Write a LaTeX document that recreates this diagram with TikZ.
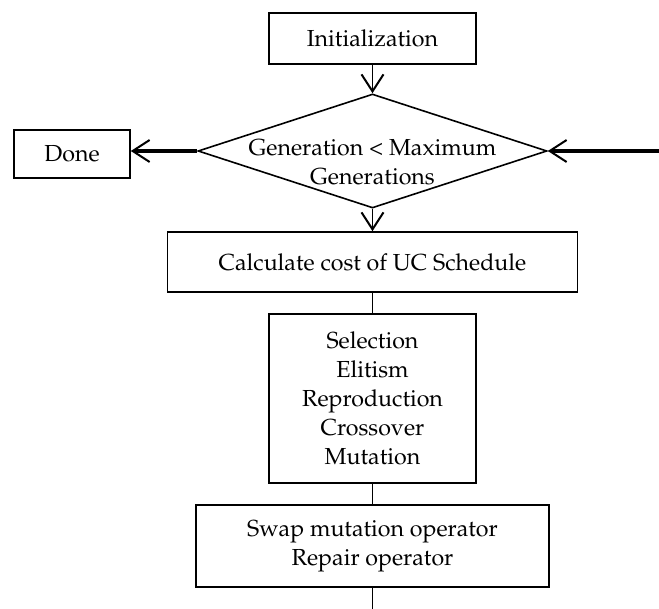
\documentclass[tikz,border=0pt]{standalone}
\usepackage[T1]{fontenc}
\usepackage{mathpazo}
\usetikzlibrary{arrows.meta,shapes.geometric}
\begin{document}
\begin{tikzpicture}[x=0.5pt,y=-0.5pt,
  every node/.style={font=\fontsize{11.6}{14.5}\selectfont},
  box/.style={draw, line width=0.8pt, inner sep=0pt, align=center},
  decision/.style={draw, diamond, line width=0.8pt, inner sep=0pt,
    minimum width=174.5pt, minimum height=57pt, aspect=3.06},
  caption/.style={inner sep=0pt, align=center},
  flow/.style={line width=0.9pt, -{Straight Barb[length=8.5pt,width=11pt,line width=1pt]}},
  link/.style={line width=0.9pt},
  exitflow/.style={line width=1.7pt, -{Straight Barb[length=8.5pt,width=11pt,line width=1pt]}},
]
\useasboundingbox (0,0) rectangle (659,609);

% flowchart blocks
\node[box, minimum width=103.5pt, minimum height=25.5pt] (init) at (372.5,38.5) {Initialization};
\node[decision] (dec) at (372.5,151) {};
\node[caption] (dectext) at (372.5,162) {Generation < Maximum\\Generations};
\node[box, minimum width=58pt, minimum height=24pt] (done) at (72,154) {Done};
\node[box, minimum width=205pt, minimum height=30pt] (calc) at (372.5,262) {Calculate cost of UC Schedule};
\node[box, minimum width=103.5pt, minimum height=84.5pt] (sel) at (372.5,398.5)
  {Selection\\Elitism\\Reproduction\\Crossover\\Mutation};
\node[box, minimum width=176.5pt, minimum height=41pt] (swap) at (372.5,546)
  {Swap mutation operator\\Repair operator};

% loose ends of the loop
\coordinate (back) at (659,151);
\coordinate (next) at (372.5,609);

% connectors
\draw[flow] (init.south) -- (dec.north);
\draw[flow] (dec.south) -- (calc.north);
\draw[exitflow] (dec.west) -- (dec.west -| done.east);
\draw[exitflow] (back) -- (dec.east);
\draw[link] (calc.south) -- (sel.north);
\draw[link] (sel.south) -- (swap.north);
\draw[link] (swap.south) -- (next);
\end{tikzpicture}
\end{document}
